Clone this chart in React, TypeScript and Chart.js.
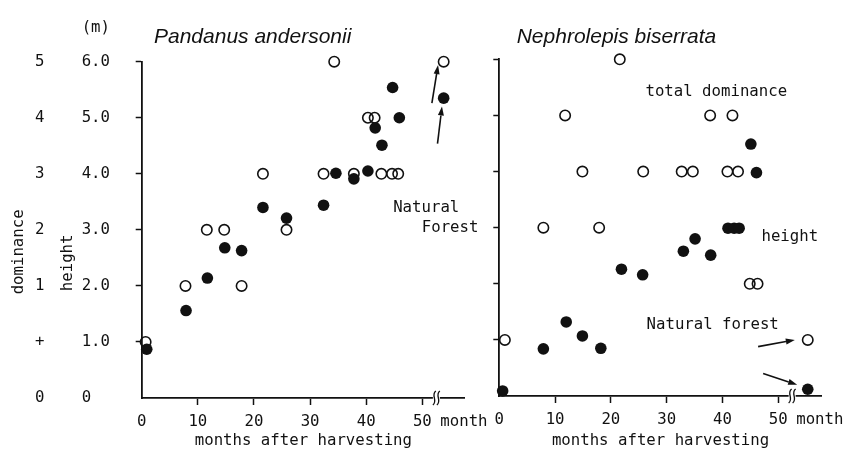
import React, { useEffect, useRef } from 'react';
import { Chart, registerables } from 'chart.js';

Chart.register(...registerables);

const MONO = '"DejaVu Sans Mono", "Liberation Mono", monospace';
const SANS = '"Liberation Sans", Arial, sans-serif';
const INK = '#111111';
const CLEAR = 'rgba(0,0,0,0)';
const FONT_SIZE = 15.7;

// ---- axes ----
const HEIGHT_TICKS = [0, 1, 2, 3, 4, 5, 6];
const HEIGHT_LABELS = ['0  ', '1.0', '2.0', '3.0', '4.0', '5.0', '6.0'];
const DOMINANCE_LABELS = ['0', '+', '1', '2', '3', '4', '5'];
const MONTH_TICKS = [0, 10, 20, 30, 40, 50];
const BREAK_MONTH = 52.5;

// ---- Pandanus andersonii ----
const pandDomMonths = [0.7, 7.8, 11.6, 14.7, 17.8, 21.6, 25.8, 32.4, 34.3, 37.8, 40.3, 41.5, 42.7, 44.6, 45.7];
const pandDominance = ['+', '1', '2', '2', '1', '3', '2', '3', '5', '3', '4', '4', '3', '3', '3'];
const pandHtMonths = [0.9, 7.9, 11.7, 14.8, 17.8, 21.6, 25.8, 32.4, 34.6, 37.8, 40.3, 41.6, 42.8, 44.7, 45.9];
const pandHeight = [0.87, 1.56, 2.14, 2.68, 2.63, 3.40, 3.21, 3.44, 4.01, 3.91, 4.05, 4.82, 4.51, 5.54, 5.00];
const pandForestMonth = 53.8;
const pandForestDominance = '5';
const pandForestHeight = 5.35;
const pandNotes = ['Natural', 'Forest'];
const pandNoteMonths = [44.8, 49.9];
const pandNoteLevels = [3.385, 3.03];
const pandArrowFrom = [[51.7, 5.26], [52.7, 4.54]];
const pandArrowTo = [[52.8, 5.94], [53.5, 5.2]];

// ---- Nephrolepis biserrata ----
const nephDomMonths = [1.0, 7.9, 11.8, 14.9, 17.9, 21.6, 25.8, 32.7, 34.7, 37.8, 40.9, 41.8, 42.8, 44.9, 46.3];
const nephDominance = ['+', '2', '4', '3', '2', '5', '3', '3', '3', '4', '3', '4', '3', '1', '1'];
const nephHtMonths = [0.6, 7.9, 12.0, 14.9, 18.2, 21.9, 25.7, 33.0, 35.1, 37.9, 41.0, 42.1, 43.0, 45.1, 46.1];
const nephHeight = [0.09, 0.84, 1.32, 1.07, 0.85, 2.26, 2.16, 2.58, 2.80, 2.51, 2.99, 2.99, 2.99, 4.49, 3.98];
const nephForestMonth = 55.3;
const nephForestDominance = '+';
const nephForestHeight = 0.12;
const nephNotes = ['total dominance', 'height', 'Natural forest'];
const nephNoteMonths = [26.2, 47.0, 26.4];
const nephNoteLevels = [5.41, 2.83, 1.27];
const nephArrowFrom = [[46.4, 0.88], [47.3, 0.40]];
const nephArrowTo = [[52.98, 1.0], [53.4, 0.2]];

const PANDANUS = {
  key: 'pand',
  title: 'Pandanus andersonii',
  titleDx: 12.3,
  domMonths: pandDomMonths,
  dominance: pandDominance,
  htMonths: pandHtMonths,
  heights: pandHeight,
  forestMonth: pandForestMonth,
  forestDominance: pandForestDominance,
  forestHeight: pandForestHeight,
  notes: pandNotes,
  noteMonths: pandNoteMonths,
  noteLevels: pandNoteLevels,
  arrowFrom: pandArrowFrom,
  arrowTo: pandArrowTo,
  xMax: 57.6,
  padding: { left: 9.4, top: 61.7, right: 385, bottom: 0 },
  yWidth: 83.7,
  domWidth: 48.6,
  xHeight: 52,
  labelled: true,
};

const NEPHROLEPIS = {
  key: 'neph',
  title: 'Nephrolepis biserrata',
  titleDx: 17.4,
  domMonths: nephDomMonths,
  dominance: nephDominance,
  htMonths: nephHtMonths,
  heights: nephHeight,
  forestMonth: nephForestMonth,
  forestDominance: nephForestDominance,
  forestHeight: nephForestHeight,
  notes: nephNotes,
  noteMonths: nephNoteMonths,
  noteLevels: nephNoteLevels,
  arrowFrom: nephArrowFrom,
  arrowTo: nephArrowTo,
  xMax: 57.8,
  padding: { left: 479.3, top: 59.3, right: 28.3, bottom: 0 },
  yWidth: 20,
  domWidth: 0,
  xHeight: 54,
  labelled: false,
};

function drawArrow(ctx: CanvasRenderingContext2D, x0: number, y0: number, x1: number, y1: number) {
  const ang = Math.atan2(y1 - y0, x1 - x0);
  const head = 9;
  const half = 3;
  const bx = x1 - head * Math.cos(ang);
  const by = y1 - head * Math.sin(ang);
  ctx.beginPath();
  ctx.moveTo(x0, y0);
  ctx.lineTo(bx, by);
  ctx.lineWidth = 1.6;
  ctx.stroke();
  ctx.beginPath();
  ctx.moveTo(x1, y1);
  ctx.lineTo(bx + half * Math.sin(ang), by - half * Math.cos(ang));
  ctx.lineTo(bx - half * Math.sin(ang), by + half * Math.cos(ang));
  ctx.closePath();
  ctx.fill();
}

function decorPlugin(panel: any) {
  return {
    id: 'decor_' + panel.key,
    afterDraw(chart: any) {
      const ctx: CanvasRenderingContext2D = chart.ctx;
      const xs = chart.scales.x;
      const ys = chart.scales.y;
      const area = chart.chartArea;
      ctx.save();
      ctx.fillStyle = INK;
      ctx.strokeStyle = INK;

      // panel title
      ctx.font = `italic 21px ${SANS}`;
      ctx.textAlign = 'left';
      ctx.textBaseline = 'alphabetic';
      ctx.fillText(panel.title, area.left + panel.titleDx, 43.3);

      // "month" after the 50 tick label
      ctx.font = `${FONT_SIZE}px ${MONO}`;
      ctx.textBaseline = 'middle';
      ctx.fillText('month', xs.getPixelForValue(50) + 18, xs.top + 23.7);

      // axis break
      const bx = xs.getPixelForValue(BREAK_MONTH);
      const by = xs.top;
      ctx.fillStyle = '#ffffff';
      ctx.fillRect(bx - 3.5, by - 2, 7, 4);
      ctx.fillStyle = INK;
      ctx.lineWidth = 1.3;
      for (const dx of [-2, 2]) {
        ctx.beginPath();
        ctx.moveTo(bx + dx - 1.5, by + 7);
        ctx.bezierCurveTo(bx + dx + 4, by + 3, bx + dx - 4, by - 3, bx + dx + 1.5, by - 7);
        ctx.stroke();
      }

      // notes
      ctx.textAlign = 'left';
      ctx.textBaseline = 'middle';
      panel.notes.forEach((t: string, i: number) => {
        ctx.fillText(t, xs.getPixelForValue(panel.noteMonths[i]), ys.getPixelForValue(panel.noteLevels[i]));
      });

      // arrows
      panel.arrowFrom.forEach((f: number[], i: number) => {
        const t = panel.arrowTo[i];
        drawArrow(ctx, xs.getPixelForValue(f[0]), ys.getPixelForValue(f[1]), xs.getPixelForValue(t[0]), ys.getPixelForValue(t[1]));
      });

      // y-axis titles
      if (panel.labelled) {
        const dom = chart.scales.dom;
        const mid = (area.top + area.bottom) / 2;
        ctx.textAlign = 'right';
        ctx.fillText('(m)', ys.right - 31.7, ys.getPixelForValue(6) - 33.7);
        ctx.textAlign = 'center';
        ctx.save();
        ctx.translate(dom.left + 9.4, mid + 22);
        ctx.rotate(-Math.PI / 2);
        ctx.fillText('dominance', 0, 0);
        ctx.restore();
        ctx.save();
        ctx.translate(ys.left + 10, mid + 33);
        ctx.rotate(-Math.PI / 2);
        ctx.fillText('height', 0, 0);
        ctx.restore();
      }
      ctx.restore();
    },
  };
}

function buildConfig(panel: any): any {
  const domPos = (d: string) => DOMINANCE_LABELS.indexOf(d);
  const openPts = panel.domMonths
    .map((m: number, i: number) => ({ x: m, y: domPos(panel.dominance[i]) }))
    .concat([{ x: panel.forestMonth, y: domPos(panel.forestDominance) }]);
  const filledPts = panel.htMonths
    .map((m: number, i: number) => ({ x: m, y: panel.heights[i] }))
    .concat([{ x: panel.forestMonth, y: panel.forestHeight }]);

  const font = { family: MONO, size: FONT_SIZE };
  const scales: any = {
    x: {
      type: 'linear',
      position: 'bottom',
      min: 0,
      max: panel.xMax,
      afterBuildTicks: (s: any) => {
        s.ticks = MONTH_TICKS.map((v) => ({ value: v }));
      },
      afterFit: (s: any) => {
        s.height = panel.xHeight;
      },
      border: { display: true, color: INK, width: 1.8 },
      grid: {
        display: true,
        drawOnChartArea: false,
        drawTicks: true,
        tickLength: 7,
        tickWidth: 1.5,
        tickColor: (c: any) => (c.tick && c.tick.value === 0 ? CLEAR : INK),
      },
      ticks: {
        font,
        color: INK,
        padding: 7.3,
        maxRotation: 0,
        autoSkip: false,
        callback: (v: any) => String(v),
      },
      title: {
        display: true,
        text: 'months after harvesting',
        font,
        color: INK,
        padding: { top: 0, bottom: 0 },
      },
    },
    y: {
      type: 'linear',
      position: 'left',
      weight: 0,
      min: 0,
      max: 6,
      afterBuildTicks: (s: any) => {
        s.ticks = HEIGHT_TICKS.map((v) => ({ value: v }));
      },
      afterFit: (s: any) => {
        s.width = panel.yWidth;
      },
      border: { display: true, color: INK, width: 1.8 },
      grid: {
        display: true,
        drawOnChartArea: false,
        drawTicks: true,
        tickLength: 6,
        tickWidth: 1.5,
        tickColor: (c: any) => (c.tick && c.tick.value === 0 ? CLEAR : INK),
      },
      ticks: {
        display: panel.labelled,
        font,
        color: INK,
        padding: 25.7,
        crossAlign: 'near',
        autoSkip: false,
        callback: (_v: any, i: number) => HEIGHT_LABELS[i],
      },
    },
  };
  if (panel.labelled) {
    scales.dom = {
      type: 'linear',
      position: 'left',
      weight: 1,
      min: 0,
      max: 6,
      afterBuildTicks: (s: any) => {
        s.ticks = HEIGHT_TICKS.map((v) => ({ value: v }));
      },
      afterFit: (s: any) => {
        s.width = panel.domWidth;
      },
      border: { display: false },
      grid: { display: false, drawTicks: false, tickLength: 0, drawOnChartArea: false },
      ticks: {
        font,
        color: INK,
        padding: 13.5,
        crossAlign: 'near',
        autoSkip: false,
        callback: (_v: any, i: number) => DOMINANCE_LABELS[i],
      },
    };
  }

  return {
    type: 'scatter',
    data: {
      datasets: [
        {
          label: 'height',
          data: filledPts,
          pointStyle: 'circle',
          pointRadius: 5.8,
          pointBackgroundColor: INK,
          pointBorderColor: INK,
          pointBorderWidth: 0,
          showLine: false,
          clip: false,
        },
        {
          label: 'total dominance',
          data: openPts,
          pointStyle: 'circle',
          pointRadius: 5.2,
          pointBackgroundColor: CLEAR,
          pointBorderColor: INK,
          pointBorderWidth: 1.6,
          showLine: false,
          clip: false,
        },
      ],
    },
    options: {
      responsive: false,
      maintainAspectRatio: false,
      animation: false,
      devicePixelRatio: 1,
      events: [],
      layout: { padding: panel.padding },
      plugins: { legend: { display: false }, tooltip: { enabled: false }, title: { display: false } },
      scales,
    },
    plugins: [decorPlugin(panel)],
  };
}

function PanelChart({ panel }: { panel: any }) {
  const ref = useRef<HTMLCanvasElement | null>(null);
  useEffect(() => {
    if (!ref.current) return;
    const chart = new Chart(ref.current, buildConfig(panel));
    return () => chart.destroy();
  }, [panel]);
  return (
    <canvas
      ref={ref}
      width={850}
      height={450}
      style={{ position: 'absolute', left: 0, top: 0, width: 850, height: 450 }}
    />
  );
}

export default function App() {
  return (
    <div
      style={{
        position: 'fixed',
        left: 0,
        top: 0,
        width: 850,
        height: 450,
        background: '#ffffff',
        overflow: 'hidden',
      }}
    >
      <PanelChart panel={PANDANUS} />
      <PanelChart panel={NEPHROLEPIS} />
    </div>
  );
}
